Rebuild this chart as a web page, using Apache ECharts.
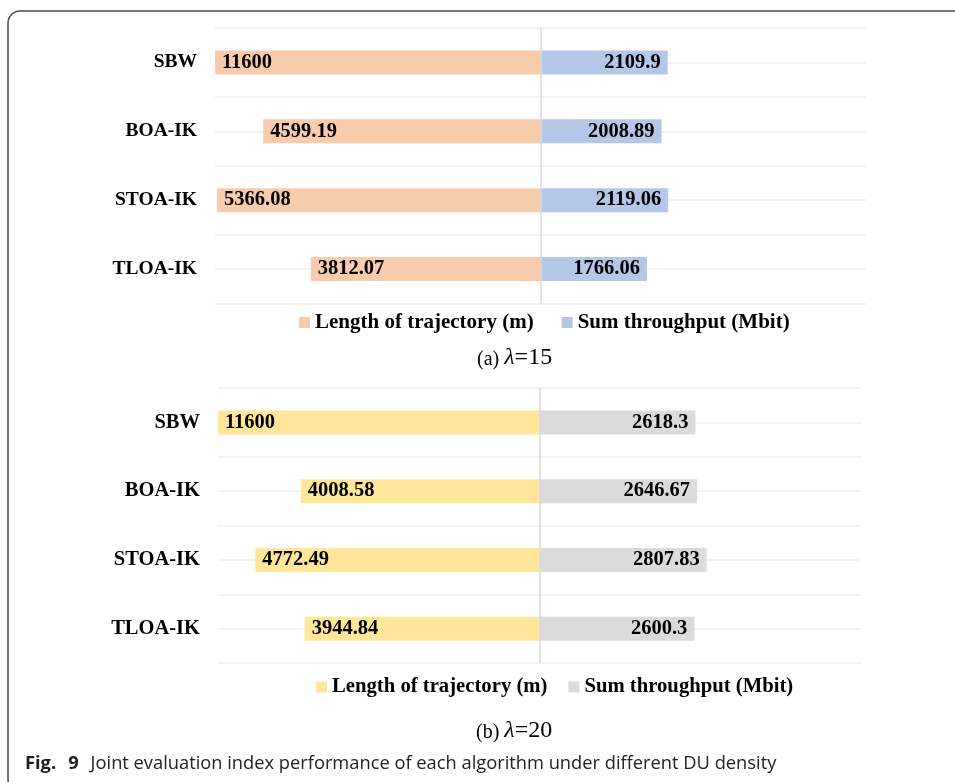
<!DOCTYPE html>
<html><head><meta charset="utf-8">
<script src="https://cdn.jsdelivr.net/npm/echarts@6/dist/echarts.min.js"></script>
<style>html,body{margin:0;padding:0;background:#fff}#c{width:955px;height:782px}</style>
</head><body><div id="c"></div>
<script>
const categories = ['SBW', 'BOA-IK', 'STOA-IK', 'TLOA-IK'];
const lengthA = [11600, 4599.19, 5366.08, 3812.07];
const throughputA = [2109.9, 2008.89, 2119.06, 1766.06];
const lengthB = [11600, 4008.58, 4772.49, 3944.84];
const throughputB = [2618.3, 2646.67, 2807.83, 2600.3];
const seriesNames = ['Length of trajectory (m)', 'Sum throughput (Mbit)'];
const axisMin = -5400, axisMax = 5400;

const serif = "'Liberation Serif', 'Times New Roman', serif";
const chart = echarts.init(document.getElementById('c'));

function yAx(gi, fs, tickLen) {
  return {
    type: 'category', gridIndex: gi, data: categories, inverse: true, position: 'left',
    axisLine: { show: false, onZero: false },
    axisTick: { show: true, inside: true, alignWithLabel: true, length: tickLen, lineStyle: { color: '#efefef', width: 1.5 } },
    splitLine: { show: true, lineStyle: { color: '#efefef', width: 1.5 } },
    axisLabel: { color: '#000', fontFamily: serif, fontWeight: 'bold', fontSize: fs, margin: 18 }
  };
}
function xAx(gi) {
  return { type: 'value', gridIndex: gi, min: axisMin, max: axisMax, show: false };
}
function bars(gi, prefix, leftVals, rightVals, cl, cr) {
  const lbl = { color: '#000', fontFamily: serif, fontWeight: 'bold', fontSize: 20.5, distance: 7,
    formatter: p => String(Math.abs(p.value)) };
  return [
    { name: prefix + seriesNames[0], type: 'bar', xAxisIndex: gi, yAxisIndex: gi, barWidth: 24, barGap: '-100%',
      data: leftVals.map(v => -v), itemStyle: { color: cl },
      label: Object.assign({ show: true, position: 'insideLeft' }, lbl),
      markLine: { silent: true, symbol: 'none', label: { show: false }, animation: false,
        lineStyle: { color: '#d9d9d9', width: 1.5, type: 'solid' }, data: [{ xAxis: 0 }] } },
    { name: prefix + seriesNames[1], type: 'bar', xAxisIndex: gi, yAxisIndex: gi, barWidth: 24, barGap: '-100%',
      data: rightVals, itemStyle: { color: cr },
      label: Object.assign({ show: true, position: 'insideRight' }, lbl) }
  ];
}
const legendText = { color: '#000', fontFamily: serif, fontWeight: 'bold', fontSize: 21 };
const capRich = {
  a: { fontFamily: serif, fontSize: 20, fontWeight: 'normal', color: '#000', lineHeight: 26, verticalAlign: 'bottom' },
  l: { fontFamily: serif, fontSize: 24, fontStyle: 'italic', fontWeight: 'normal', color: '#000', lineHeight: 26, verticalAlign: 'bottom' },
  b: { fontFamily: serif, fontSize: 24, fontWeight: 'normal', color: '#000', lineHeight: 26, verticalAlign: 'bottom' }
};
const sans = "'Open Sans', 'Noto Sans', sans-serif";

chart.setOption({
  animation: false,
  grid: [
    { left: 215, right: 89, top: 28, height: 275.5 },
    { left: 218, right: 94, top: 388, height: 275 }
  ],
  xAxis: [xAx(0), xAx(1)],
  yAxis: [yAx(0, 19.5, 651), yAx(1, 20.5, 643)],
  legend: [
    { left: 299, top: 312, padding: 0, icon: 'rect', itemWidth: 11, itemHeight: 11, itemGap: 28,
      data: ['A' + seriesNames[0], 'A' + seriesNames[1]], formatter: n => n.slice(1), textStyle: legendText },
    { left: 316, top: 676.5, padding: 0, icon: 'rect', itemWidth: 11, itemHeight: 11, itemGap: 21,
      data: ['B' + seriesNames[0], 'B' + seriesNames[1]], formatter: n => n.slice(1),
      textStyle: Object.assign({}, legendText, { fontSize: 20.7 }) }
  ],
  title: [
    { text: '{a|(a) }{l|λ}{b|=15}', left: 477, top: 344, padding: 0, textStyle: { fontWeight: 'normal', rich: capRich } },
    { text: '{a|(b) }{l|λ}{b|=20}', left: 476, top: 717, padding: 0, textStyle: { fontWeight: 'normal', rich: capRich } },
    { text: '{f|Fig.}{n|9}{t|Joint evaluation index performance of each algorithm under different DU density}',
      left: 25, top: 755, padding: 0,
      textStyle: { fontWeight: 'normal', rich: {
        f: { fontFamily: sans, fontWeight: 'bold', fontSize: 18.3, color: '#222' },
        n: { fontFamily: sans, fontWeight: 'bold', fontSize: 18.3, color: '#222', padding: [0, 0, 0, 12] },
        t: { fontFamily: sans, fontWeight: 'normal', fontSize: 18.3, color: '#222', padding: [0, 0, 0, 12] }
      } } }
  ],
  graphic: [
    { type: 'rect', silent: true, z: -1, shape: { x: 8, y: 11, width: 1100, height: 780, r: [12, 0, 0, 12] },
      style: { fill: 'none', stroke: '#4a4a4a', lineWidth: 1.5 } }
  ],
  series: [].concat(
    bars(0, 'A', lengthA, throughputA, '#F8CBAD', '#B4C7E7'),
    bars(1, 'B', lengthB, throughputB, '#FFE699', '#DBDBDB')
  )
});
</script></body></html>
